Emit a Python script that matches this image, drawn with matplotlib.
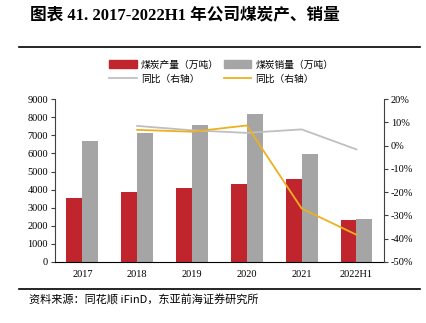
import numpy as np
import matplotlib
matplotlib.use("Agg")
import matplotlib.pyplot as plt
from matplotlib.patches import Patch
from matplotlib.lines import Line2D
from matplotlib.ticker import FuncFormatter

plt.rcParams['font.family'] = ['Liberation Serif', 'Noto Sans CJK SC']

# 数据
years = ['2017', '2018', '2019', '2020', '2021', '2022H1']
production = [3550, 3870, 4100, 4310, 4580, 2320]
sales = [6680, 7150, 7560, 8190, 5980, 2370]
sales_yoy = [None, 8.5, 6.6, 5.5, 7.0, -1.6]
prod_yoy = [None, 6.8, 6.0, 8.7, -27.0, -38.3]

red = '#C0242D'
gray = '#A5A5A5'
gray_line = '#BFBFBF'
yellow = '#EDB120'
cjk = ['Noto Sans CJK SC', 'DejaVu Sans']

fig = plt.figure(figsize=(4.26, 3.23), dpi=100)
ax = fig.add_axes([0.129, 0.189, 0.772, 0.504])

x = np.arange(len(years))
w = 0.29
ax.bar(x - w / 2, production, w, color=red, zorder=2)
ax.bar(x + w / 2, sales, w, color=gray, zorder=2)
ax.set_xlim(-0.5, len(years) - 0.5)
ax.set_ylim(0, 9000)
ax.set_yticks(range(0, 9001, 1000))
ax.set_xticks(x)
ax.set_xticklabels(years)
ax.tick_params(axis='x', length=0, labelsize=7.5, pad=6)
ax.tick_params(axis='y', labelsize=7.5, length=3, color='#404040', pad=2)
ax.spines['top'].set_visible(False)
ax.spines['right'].set_visible(False)
ax.spines['left'].set_color('#404040')
ax.spines['bottom'].set_color('black')

ax2 = ax.twinx()
xs = x[1:]
ax2.plot(xs, sales_yoy[1:], color=gray_line, lw=1.3, zorder=3)
ax2.plot(xs, prod_yoy[1:], color=yellow, lw=1.3, zorder=4)
ax2.set_ylim(-50, 20)
ax2.set_yticks(range(-50, 21, 10))
ax2.yaxis.set_major_formatter(FuncFormatter(lambda v, p: f'{int(v)}%'))
ax2.tick_params(axis='y', labelsize=7.5, length=3, color='#404040', pad=2)
for s in ['top', 'left', 'bottom']:
    ax2.spines[s].set_visible(False)
ax2.spines['right'].set_color('#404040')

handles = [Patch(color=red), Line2D([], [], color=gray_line, lw=1.3),
           Patch(color=gray), Line2D([], [], color=yellow, lw=1.3)]
labels = ['煤炭产量（万吨）', '同比（右轴）', '煤炭销量（万吨）', '同比（右轴）']
fig.legend(handles, labels, ncol=2, loc='center', bbox_to_anchor=(0.52, 0.778),
           frameon=False, prop={'family': cjk, 'size': 7},
           handlelength=2.8, handleheight=0.8, columnspacing=0.5,
           labelspacing=0.45, handletextpad=0.45)

fig.text(0.07, 0.953, '图表 41. 2017-2022H1 年公司煤炭产、销量', fontsize=12,
         fontweight='bold', family=['Liberation Serif', 'Noto Sans CJK SC'],
         va='center', ha='left')
fig.add_artist(Line2D([0.045, 0.985], [0.855, 0.855], color='black', lw=1.2))
fig.add_artist(Line2D([0.045, 0.985], [0.105, 0.105], color='black', lw=1.2))
fig.text(0.068, 0.07, '资料来源：同花顺 iFinD，东亚前海证券研究所', fontsize=8,
         family=cjk, va='center', ha='left')

fig.savefig('out.png', dpi=100)
